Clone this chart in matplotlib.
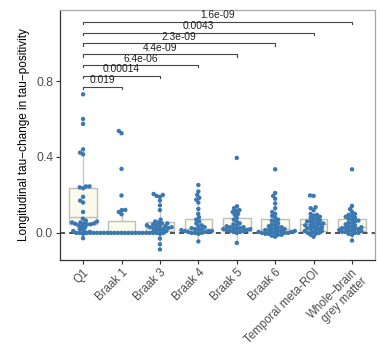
import numpy as np
import matplotlib
matplotlib.use('Agg')
import matplotlib.pyplot as plt

plt.rcParams['font.family'] = ['Liberation Sans', 'DejaVu Sans']

groups = ['Q1', 'Braak 1', 'Braak 3', 'Braak 4', 'Braak 5', 'Braak 6',
          'Temporal meta-ROI', 'Whole\u2212brain\ngrey matter']

q1_vals = [0.73, 0.60, 0.574, 0.44, 0.423, 0.414, 0.245, 0.245, 0.24, 0.235, 0.19, 0.17,
           0.16, 0.11, 0.075, 0.065, 0.06, 0.055, 0.055, 0.05, 0.05, 0.048, 0.045, 0.045,
           0.04, 0.035, 0.03, 0.02, 0.015, 0.01, 0.005, 0.0, 0.0, 0.0, -0.005, -0.028]
braak1_vals = [0.537, 0.525, 0.337, 0.197, 0.121, 0.12, 0.11, 0.098, 0.012, 0.01] + [0.0] * 20
braak3_vals = [0.205, 0.2, 0.195, 0.19, 0.17, 0.145, 0.12, 0.07, 0.06, 0.055, 0.05, 0.05,
               0.045, 0.04, 0.04, 0.035, 0.035, 0.03, 0.03, 0.025, 0.025, 0.02, 0.02, 0.015,
               0.01, 0.005, 0.0, 0.0, -0.005, -0.03, -0.06, -0.087]
braak4_vals = [0.252, 0.218, 0.2, 0.185, 0.175, 0.16, 0.126, 0.1, 0.082, 0.07, 0.06, 0.05,
               0.04, 0.035, 0.03, 0.025, 0.02, 0.02, 0.015, 0.015, 0.01, 0.01, 0.01, 0.005,
               0.005, 0.0, 0.0, 0.0, -0.005, -0.045]
braak5_vals = [0.395, 0.14, 0.13, 0.12, 0.115, 0.11, 0.1, 0.095, 0.08, 0.07, 0.06, 0.05,
               0.045, 0.04, 0.035, 0.03, 0.03, 0.025, 0.025, 0.02, 0.02, 0.02, 0.015, 0.015,
               0.01, 0.01, 0.005, 0.005, 0.0, -0.053]
braak6_vals = [0.335, 0.21, 0.195, 0.18, 0.155, 0.13, 0.11, 0.1, 0.09, 0.08, 0.07, 0.065,
               0.06, 0.05, 0.045, 0.04, 0.035, 0.03, 0.03, 0.025, 0.02, 0.02, 0.015, 0.015,
               0.01, 0.01, 0.01, 0.005, 0.005, 0.005, 0.0, 0.0, 0.0, 0.0, -0.005, -0.005,
               -0.01, -0.01, -0.015, -0.02]
temporal_vals = [0.197, 0.195, 0.135, 0.13, 0.12, 0.1, 0.095, 0.09, 0.085, 0.08, 0.075, 0.07,
                 0.065, 0.06, 0.06, 0.055, 0.05, 0.05, 0.045, 0.04, 0.04, 0.035, 0.03, 0.03,
                 0.025, 0.02, 0.02, 0.015, 0.01, 0.01, 0.005, 0.0, 0.0, -0.005, -0.01, -0.02]
whole_vals = [0.335, 0.142, 0.125, 0.11, 0.1, 0.095, 0.09, 0.085, 0.08, 0.075, 0.07, 0.065,
              0.06, 0.055, 0.05, 0.045, 0.04, 0.035, 0.03, 0.03, 0.025, 0.025, 0.02, 0.02,
              0.015, 0.015, 0.01, 0.01, 0.005, 0.005, 0.0, 0.0, -0.005, -0.01, -0.04]
values = [q1_vals, braak1_vals, braak3_vals, braak4_vals, braak5_vals, braak6_vals,
          temporal_vals, whole_vals]

# box summary
box_low = [-0.028, 0.0, -0.06, -0.045, -0.053, -0.02, -0.02, -0.04]
box_q1 = [0.047, 0.0, 0.01, 0.005, 0.012, 0.005, 0.012, 0.01]
box_med = [0.084, 0.0, 0.03, 0.02, 0.025, 0.022, 0.045, 0.03]
box_q3 = [0.235, 0.065, 0.058, 0.074, 0.079, 0.074, 0.074, 0.074]
box_high = [0.44, 0.12, 0.12, 0.18, 0.14, 0.18, 0.135, 0.14]

p_labels = ['0.019', '0.00014', '6.4e-06', '4.4e-09', '2.3e-09', '0.0043', '1.6e-09']


def swarm_offsets(vals, d, sx, sy):
    # simple beeswarm in pixel space, points placed in ascending order
    order = np.argsort(vals, kind='stable')
    placed = []
    offs = np.zeros(len(vals))
    for i in order:
        y = vals[i] * sy
        near = [(px, py) for px, py in placed if abs(py - y) < d]
        cands = [0.0]
        for px, py in near:
            dx = np.sqrt(d * d - (py - y) ** 2)
            cands += [px + dx, px - dx]
        cands.sort(key=lambda c: (abs(c), c))
        for c in cands:
            if all((c - px) ** 2 + (y - py) ** 2 >= d * d - 1e-6 for px, py in near):
                break
        placed.append((c, y))
        offs[i] = c / sx
    return offs


fig = plt.figure(figsize=(3.8, 3.46), dpi=100)
ax = fig.add_axes([0.158, 0.249, 0.829, 0.722])
ax.set_xlim(0.4, 8.6)
ax.set_ylim(-0.142, 1.174)

pos = np.arange(1, len(groups) + 1)
stats = [dict(whislo=a, q1=b, med=c, q3=d, whishi=e)
         for a, b, c, d, e in zip(box_low, box_q1, box_med, box_q3, box_high)]
ax.bxp(stats, positions=pos, widths=0.72, patch_artist=True, showfliers=False,
       showcaps=False,
       boxprops=dict(facecolor='#FAFBEA', edgecolor='#BDBDBD', linewidth=1.0),
       medianprops=dict(color='#BDBDBD', linewidth=1.0),
       whiskerprops=dict(color='#C8C8C8', linewidth=1.0), zorder=1)

ax.axhline(0, color='#333333', lw=1.2, ls=(0, (3, 2.5)), zorder=2)

fig.canvas.draw()
p0 = ax.transData.transform((0, 0))
p1 = ax.transData.transform((1, 1))
sx, sy = p1[0] - p0[0], p1[1] - p0[1]

for x0, vals in zip(pos, values):
    vals = np.array(vals)
    xs = x0 + swarm_offsets(vals, 3.5, sx, sy)
    ax.scatter(xs, vals, s=10, color='#3A78B2', edgecolors='none', zorder=3)

for i, lab in enumerate(p_labels):
    y = 0.77 + i * 0.057
    x2 = pos[i + 1]
    ax.plot([1, 1, x2, x2], [y - 0.012, y, y, y - 0.012], color='#444444', lw=0.8)
    ax.text((1 + x2) / 2, y + 0.008, lab, ha='center', va='bottom', fontsize=7.4,
            color='#222222')

ax.set_yticks([0.0, 0.4, 0.8])
ax.set_yticklabels(['0.0', '0.4', '0.8'])
ax.set_xticks(pos)
ax.set_xticklabels(groups, rotation=45, ha='right', rotation_mode='anchor',
                   linespacing=1.0)
ax.tick_params(axis='both', labelsize=8.8, labelcolor='#4D4D4D', color='#333333',
               length=3, width=0.8, pad=2)
ax.tick_params(axis='x', labelsize=8.3)
ax.set_ylabel('Longitudinal tau\u2212change in tau\u2212positivity', fontsize=8.5,
              color='black', labelpad=4)

for side in ['top', 'right']:
    ax.spines[side].set_color('#A8A8A8')
for side in ['left', 'bottom']:
    ax.spines[side].set_color('#333333')
for sp in ax.spines.values():
    sp.set_linewidth(0.9)

fig.savefig('out.png', dpi=100)
